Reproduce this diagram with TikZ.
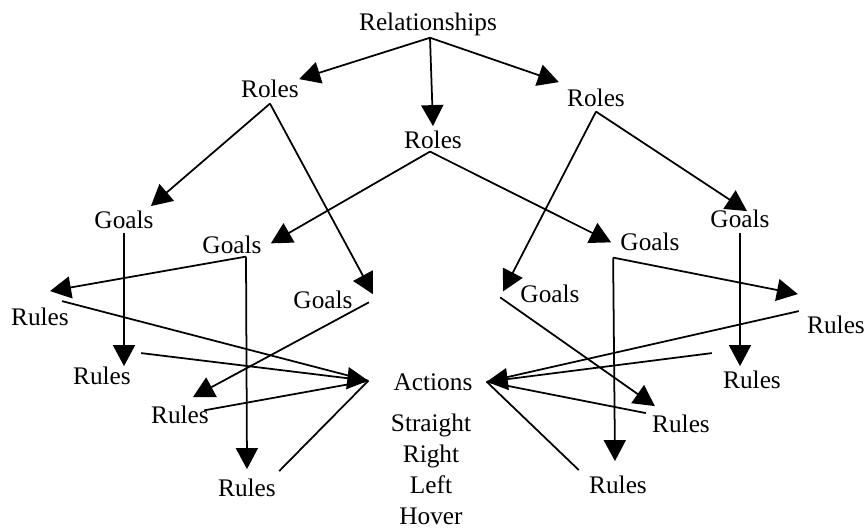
\documentclass[tikz,border=0pt]{standalone}
\usepackage{fontspec}
\setmainfont{Liberation Serif}
\usetikzlibrary{arrows.meta,calc}

\begin{document}
\begin{tikzpicture}[
    x=0.02cm, y=-0.02cm,
    font=\fontsize{14.4}{17.6}\selectfont,
    word/.style={inner sep=0pt, anchor=base},
    arrow/.style={-{Triangle[length=0.42cm, width=0.44cm]}, line width=1pt},
    link/.style={line width=1pt}
]
    \useasboundingbox (0,0) rectangle (865,531);

    % --- Top: Relationships and Roles ---
    \node[word] (rel) at (428,30) {Relationships};
    \node[word] (roleL) at (270,97) {Roles};
    \node[word] (roleM) at (433,148) {Roles};
    \node[word] (roleR) at (596,106) {Roles};

    \draw[arrow] ($(rel.south)+(2,2)$) -- (roleL.north east);
    \draw[arrow] ($(rel.south)+(2,2)$) -- ($(roleM.north)+(0,-4)$);
    \draw[arrow] ($(rel.south)+(2,2)$) -- ($(roleR.north west)+(-8,-6)$);

    % --- Goals ---
    \node[word] (goalA) at (124,228) {Goals};
    \node[word] (goalB) at (232,253) {Goals};
    \node[word] (goalC) at (323,308) {Goals};
    \node[word] (goalD) at (650,250) {Goals};
    \node[word] (goalE) at (740,227) {Goals};
    \node[word] (goalF) at (550,302) {Goals};

    \draw[arrow] ($(roleL.south)+(0,6)$) -- ($(goalA.north east)+(-3,-4)$);
    \draw[arrow] ($(roleL.south)+(0,6)$) -- ($(goalC.north east)+(20,4)$);
    \draw[arrow] ($(roleM.south)+(-3,3)$) -- ($(goalB.east)+(9,-1)$);
    \draw[arrow] ($(roleM.south)+(-3,3)$) -- ($(goalD.west)+(-9,1)$);
    \draw[arrow] ($(roleR.south)+(0,5)$) -- ($(goalE.north)+(7,2)$);
    \draw[arrow] ($(roleR.south)+(0,5)$) -- ($(goalF.west)+(-17,-2)$);

    % --- Rules ---
    \node[word] (ruleA) at (40,325) {Rules};
    \node[word] (ruleB) at (102,384) {Rules};
    \node[word] (ruleC) at (180,423) {Rules};
    \node[word] (ruleD) at (247,496) {Rules};
    \node[word] (ruleE) at (681,432) {Rules};
    \node[word] (ruleF) at (836,333) {Rules};
    \node[word] (ruleG) at (752,388) {Rules};
    \node[word] (ruleH) at (618,493) {Rules};

    \draw[arrow] ($(goalA.south)+(0,4)$) -- (goalA.south |- ruleB.north);
    \draw[arrow] ($(goalB.south)+(14,3)$) -- ($(ruleA.north)+(10,-16)$);
    \draw[arrow] ($(goalB.south)+(14,3)$) -- ($(ruleD.north)+(0,-9)$);
    \draw[arrow] ($(goalC.east)+(16,3)$) -- ($(ruleC.north)+(13,-8)$);
    \draw[arrow] ($(goalD.south west)+(-7,7)$) -- ($(ruleF.north west)+(-9,-21)$);
    \draw[arrow] ($(goalD.south west)+(-7,7)$) -- ($(ruleH.north)+(-3,-14)$);
    \draw[arrow] ($(goalE.south)+(0,5)$) -- ($(ruleG.north)+(-12,-4)$);
    \draw[arrow] ($(goalF.west)+(-20,4)$) -- ($(ruleE.north west)+(3,-8)$);

    % --- Actions ---
    \node[word] (act) at (433,390) {Actions};
    \node[anchor=north, inner sep=0pt, align=center] (moves) at (431,414) {Straight\\Right\\Left\\Hover};
    \coordinate (actL) at ($(act.west)+(-25,-1)$);
    \coordinate (actR) at ($(act.east)+(14,0)$);

    \draw[link] ($(ruleA.north)+(22,-6)$) -- (actL);
    \draw[arrow] ($(ruleB.north east)+(10,-13)$) -- (actL);
    \draw[link] ($(ruleC.east)+(-5,-4)$) -- (actL);
    \draw[link] ($(ruleD.north east)+(3,-7)$) -- (actL);
    \draw[link] ($(ruleF.north west)+(-8,-4)$) -- (actR);
    \draw[arrow] ($(ruleG.north west)+(-11,-17)$) -- (actR);
    \draw[link] ($(ruleE.north west)+(-6,-1)$) -- (actR);
    \draw[link] ($(ruleH.north west)+(-10,-5)$) -- (actR);

\end{tikzpicture}
\end{document}
